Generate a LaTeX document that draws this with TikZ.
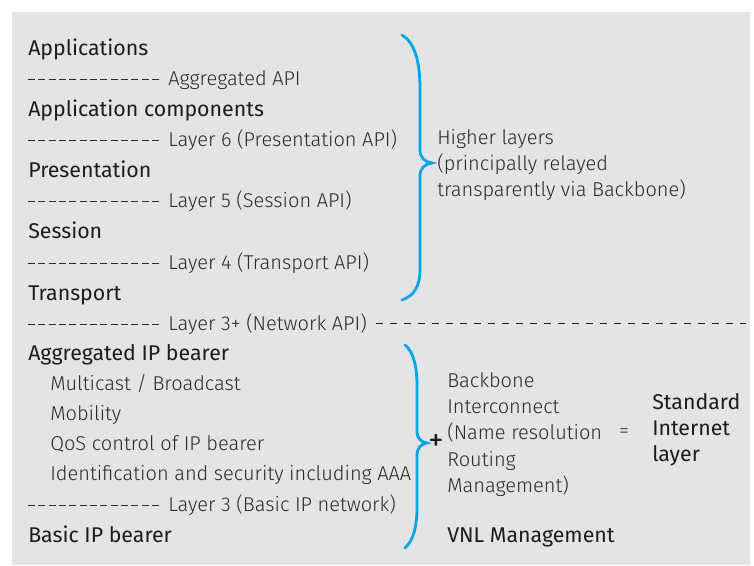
\documentclass[tikz,border=0pt]{standalone}
\usepackage{fontspec}
\newfontfamily\ltf{Fira Sans Light}
\newfontfamily\hdf{Fira Sans}
\definecolor{bggray}{HTML}{E3E4E6}
\definecolor{txt}{HTML}{2A2A2A}
\definecolor{hdtxt}{HTML}{1C1C1C}
\definecolor{braceblue}{HTML}{00A6E2}
\tikzset{
  hd/.style={font=\hdf\fontsize{16}{19}\selectfont, text=hdtxt, anchor=base west, inner sep=0pt},
  lt/.style={font=\ltf\fontsize{15}{18}\selectfont, text=txt, anchor=base west, inner sep=0pt},
  sepline/.style={draw=txt, line width=0.65pt, dash pattern=on 5.25pt off 2.5pt},
  bigdash/.style={draw=hdtxt, line width=1.4pt, dash pattern=on 5.6pt off 4.9pt},
  bracepath/.style={draw=braceblue, line width=2.1pt, line cap=round}
}
\begin{document}
\begin{tikzpicture}[x=0.75pt,y=-0.75pt]
\useasboundingbox (0,0) rectangle (754,565);
\fill[white] (0,0) rectangle (754,565);
\fill[bggray] (12,12) rectangle (750,565);

% left column
\node[hd] (app) at (28,55) {Applications};
\draw[sepline] (28,79.5) -- (160,79.5);
\node[lt] (aggapi) at (168,85) {Aggregated API};
\node[hd] (appc) at (28,116) {Application components};
\draw[sepline] (28,140.5) -- (160,140.5);
\node[lt] (l6) at (168,146) {Layer 6 (Presentation API)};
\node[hd] (pres) at (28,177) {Presentation};
\draw[sepline] (28,201.5) -- (160,201.5);
\node[lt] (l5) at (168,207) {Layer 5 (Session API)};
\node[hd] (sess) at (28,238) {Session};
\draw[sepline] (28,263.5) -- (160,263.5);
\node[lt] (l4) at (168,269) {Layer 4 (Transport API)};
\node[hd] (trans) at (28,300) {Transport};
\draw[sepline] (28,324.5) -- (160,324.5);
\node[lt] (l3p) at (168,330) {Layer 3+ (Network API)};
\draw[bigdash] (376,323.5) -- (746,323.5);
\node[hd] (aggip) at (28,360) {Aggregated IP bearer};
\node[lt] (mc) at (50,390) {Multicast / Broadcast};
\node[lt] (mob) at (50,420) {Mobility};
\node[lt] (qos) at (50,450) {QoS control of IP bearer};
\node[lt] (ident) at (50,480) {Identification and security including AAA};
\draw[sepline] (28,505.5) -- (160,505.5);
\node[lt] (l3) at (168,511) {Layer 3 (Basic IP network)};
\node[hd] (basic) at (28,542) {Basic IP bearer};

% upper brace
\draw[bracepath] (402,35) .. controls (414,42) and (420,60) .. (420,88)
  -- (420,150) .. controls (420,158) and (425,162) .. (432,163)
  .. controls (425,164) and (420,168) .. (420,176)
  -- (420,270) .. controls (420,286) and (414,296) .. (402,300);
\node[lt] (hl1) at (437,144) {Higher layers};
\node[lt] (hl2) at (437,170) {(principally relayed};
\node[lt] (hl3) at (437,196) {transparently via Backbone)};

% lower brace
\draw[bracepath] (405,345) .. controls (414,352) and (417,368) .. (417,386)
  -- (417,432) .. controls (417,438) and (421,442) .. (427,443)
  .. controls (421,444) and (417,448) .. (417,455)
  -- (417,507) .. controls (417,525) and (414,540) .. (405,548);
\node[font=\hdf\fontsize{23}{23}\selectfont, text=hdtxt, inner sep=0pt] (plus) at (436,443) {+};
\node[lt] (bb1) at (447,387) {Backbone};
\node[lt] (bb2) at (447,413) {Interconnect};
\node[lt] (bb3) at (447,439) {(Name resolution};
\node[lt] (bb4) at (447,466) {Routing};
\node[lt] (bb5) at (447,492) {Management)};
\node[lt, anchor=center] (eq) at (624,433) {=};
\node[hd] (std1) at (652,409) {Standard};
\node[hd] (std2) at (652,435) {Internet};
\node[hd] (std3) at (652,461) {layer};
\node[hd] (vnl) at (447,542) {VNL Management};
\end{tikzpicture}
\end{document}
